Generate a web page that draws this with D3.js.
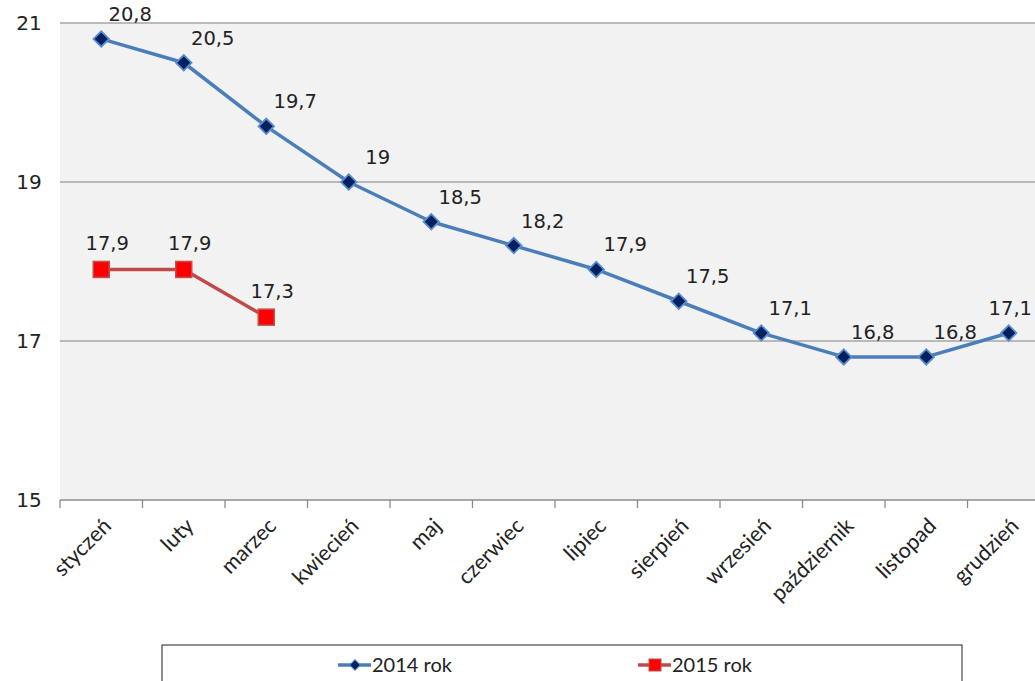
<!DOCTYPE html>
<html><head><meta charset="utf-8">
<script src="https://cdn.jsdelivr.net/npm/d3@7"></script>
<style>body{margin:0;background:#fff}svg{display:block}</style>
</head><body>
<svg id="c" width="1035" height="681"></svg>
<script>
const months = ["styczeń","luty","marzec","kwiecień","maj","czerwiec","lipiec","sierpień","wrzesień","październik","listopad","grudzień"];
const values2014 = [20.8,20.5,19.7,19,18.5,18.2,17.9,17.5,17.1,16.8,16.8,17.1];
const values2015 = [17.9,17.9,17.3];
const yTicks = [15,17,19,21];
const seriesNames = ["2014 rok","2015 rok"];

(function(){
const svg = d3.select("#c");
const pL = 60, pR = 1050, pT = 23, pB = 500;
const x = d3.scaleBand().domain(months).range([pL, pR]);
const y = d3.scaleLinear().domain([15,21]).range([pB, pT]);
const cx = m => x(m) + x.bandwidth()/2;
const fmt = v => String(v).replace(".", ",");

svg.append("rect").attr("x", pL).attr("y", pT).attr("width", pR-pL).attr("height", pB-pT).attr("fill", "#f2f2f2");

// gridlines
svg.append("g").selectAll("line").data(yTicks.filter(t => t > 15)).join("line")
  .attr("x1", pL).attr("x2", pR).attr("y1", d => y(d)).attr("y2", d => y(d))
  .attr("stroke", "#a6a6a6").attr("stroke-width", 1.3);

// y labels
svg.append("g").selectAll("text").data(yTicks).join("text")
  .attr("x", 29).attr("y", d => y(d)).attr("dy", "0.36em").attr("text-anchor", "middle")
  .attr("font-family", "DejaVu Sans, Verdana, sans-serif").attr("font-size", 20).attr("fill", "#222")
  .text(d => d);

// x axis
const xa = svg.append("g").attr("transform", `translate(0,${pB})`);
xa.append("line").attr("x1", pL).attr("x2", pR).attr("stroke", "#8c8c8c").attr("stroke-width", 1.3);
const bounds = months.map(m => x(m));
xa.selectAll("line.t").data(bounds).join("line").attr("class","t")
  .attr("x1", d => d).attr("x2", d => d).attr("y1", 0).attr("y2", 8).attr("stroke", "#8c8c8c").attr("stroke-width", 1.3);
xa.selectAll("text").data(months).join("text")
  .attr("transform", d => `translate(${cx(d)+6},${22}) rotate(-45)`)
  .attr("text-anchor", "end").attr("dy", "0.35em")
  .attr("font-family", "Lato, Open Sans, sans-serif").attr("font-size", 21.5).attr("fill", "#222")
  .text(d => d);

// lines
const line = d3.line().x((d,i) => cx(months[i])).y(d => y(d));
svg.append("path").datum(values2014).attr("d", line).attr("fill","none").attr("stroke","#4a7ebb").attr("stroke-width",3.5).attr("stroke-linejoin","round");
svg.append("path").datum(values2015).attr("d", line).attr("fill","none").attr("stroke","#be4b48").attr("stroke-width",3.5).attr("stroke-linejoin","round");

svg.append("g").selectAll("path").data(values2014).join("path")
  .attr("d", d3.symbol().type(d3.symbolSquare).size(120)())
  .attr("transform", (d,i) => `translate(${cx(months[i])},${y(d)}) rotate(45)`)
  .attr("fill", "#002060").attr("stroke", "#5a8ccc").attr("stroke-width", 1.8);

svg.append("g").selectAll("rect").data(values2015).join("rect")
  .attr("x", (d,i) => cx(months[i]) - 8).attr("y", d => y(d) - 8).attr("width", 16).attr("height", 16)
  .attr("fill", "#ff0000").attr("stroke", "#c0504d").attr("stroke-width", 1.5);

// data labels
const lblFont = "DejaVu Sans, Verdana, sans-serif";
svg.append("g").selectAll("text").data(values2014).join("text")
  .attr("x", (d,i) => cx(months[i]) + 29).attr("y", d => y(d) - 18)
  .attr("text-anchor", "middle").attr("font-family", lblFont).attr("font-size", 19.5).attr("fill", "#222")
  .text(d => fmt(d))
  .each(function(){
    const w = this.getComputedTextLength();
    const xx = +this.getAttribute("x");
    if (xx + w/2 > 1032) this.setAttribute("x", 1032 - w/2);
  });
svg.append("g").selectAll("text").data(values2015).join("text")
  .attr("x", (d,i) => cx(months[i]) + 6).attr("y", d => y(d) - 19)
  .attr("text-anchor", "middle").attr("font-family", lblFont).attr("font-size", 19.5).attr("fill", "#222")
  .text(d => fmt(d));

// legend
svg.append("rect").attr("x", 162).attr("y", 645).attr("width", 800).attr("height", 50)
  .attr("fill", "#fff").attr("stroke", "#222").attr("stroke-width", 1);
const lg = svg.append("g");
const items = [{name: seriesNames[0], x: 338, color: "#4a7ebb", type: "d"}, {name: seriesNames[1], x: 638, color: "#be4b48", type: "s"}];
items.forEach(it => {
  lg.append("line").attr("x1", it.x).attr("x2", it.x + 33).attr("y1", 665).attr("y2", 665).attr("stroke", it.color).attr("stroke-width", 3.5);
  if (it.type === "d") {
    lg.append("path").attr("d", d3.symbol().type(d3.symbolSquare).size(55)()).attr("transform", `translate(${it.x+17},665) rotate(45)`).attr("fill", "#002060").attr("stroke", "#4a7ebb");
  } else {
    lg.append("rect").attr("x", it.x + 11).attr("y", 659).attr("width", 12).attr("height", 12).attr("fill", "#ff0000").attr("stroke", "#c0504d");
  }
  lg.append("text").attr("x", it.x + 34).attr("y", 665).attr("dy", "0.35em")
    .attr("font-family", "Lato, Open Sans, sans-serif").attr("font-size", 20).attr("fill", "#222").text(it.name);
});
})();
</script>
</body></html>
